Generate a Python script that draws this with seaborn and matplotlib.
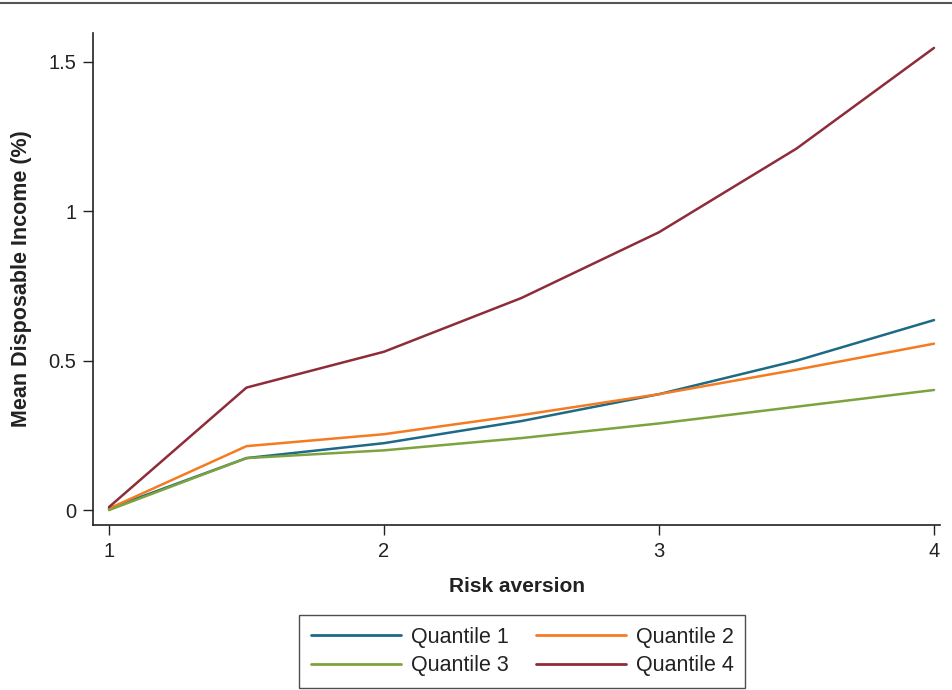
import pandas as pd
import matplotlib
matplotlib.use("Agg")
import matplotlib.pyplot as plt
import seaborn as sns
from matplotlib.lines import Line2D

# values
risk_aversion = [1, 1.5, 2, 2.5, 3, 3.5, 4]
quantile_1 = [0.005, 0.174, 0.224, 0.298, 0.388, 0.50, 0.636]
quantile_2 = [0.005, 0.214, 0.254, 0.318, 0.388, 0.47, 0.557]
quantile_3 = [0.0, 0.174, 0.200, 0.241, 0.290, 0.346, 0.402]
quantile_4 = [0.01, 0.41, 0.53, 0.71, 0.93, 1.21, 1.547]
series_names = ["Quantile 1", "Quantile 2", "Quantile 3", "Quantile 4"]
x_ticks = [1, 2, 3, 4]
x_ticklabels = ["1", "2", "3", "4"]
y_ticks = [0, 0.5, 1, 1.5]
y_ticklabels = ["0", "0.5", "1", "1.5"]

colors = ["#1d6a86", "#f57b22", "#7ca33e", "#8e2c3a"]

frames = []
for name, vals in zip(series_names, [quantile_1, quantile_2, quantile_3, quantile_4]):
    frames.append(pd.DataFrame({"risk": risk_aversion, "income": vals, "series": name}))
df = pd.concat(frames, ignore_index=True)

sns.set_style("ticks")
plt.rcParams["font.family"] = ["Liberation Sans", "DejaVu Sans"]

fig = plt.figure(figsize=(9.53, 6.9), dpi=100)
ax = fig.add_axes([0.0976, 0.2391, 0.8888, 0.7131])

sns.lineplot(data=df, x="risk", y="income", hue="series", palette=colors,
             linewidth=1.8, ax=ax, legend=False)

ax.set_xlim(0.942, 4.022)
ax.set_ylim(-0.05, 1.597)
ax.set_xticks(x_ticks)
ax.set_xticklabels(x_ticklabels)
ax.set_yticks(y_ticks)
ax.set_yticklabels(y_ticklabels)
ax.tick_params(axis="both", direction="out", length=7, width=1, labelsize=14.5,
               colors="#222222", pad=5)
for side in ["top", "right"]:
    ax.spines[side].set_visible(False)
for side in ["left", "bottom"]:
    ax.spines[side].set_linewidth(1.2)
    ax.spines[side].set_color("#222222")

ax.set_xlabel("Risk aversion", fontsize=15, fontweight="bold", labelpad=12,
              color="#222222")
ax.set_ylabel("Mean Disposable Income (%)", fontsize=15.5, fontweight="bold",
              labelpad=12, color="#222222")

# legend rows: Q1 Q2 / Q3 Q4 (matplotlib fills columns first)
order = [0, 2, 1, 3]
handles = [Line2D([0], [0], color=colors[i], lw=2) for i in order]
labels = [series_names[i] for i in order]
leg = fig.legend(handles, labels, ncol=2, loc="center",
                 bbox_to_anchor=(0.548, 0.0558), fontsize=15.5, frameon=True,
                 fancybox=False, edgecolor="#222222", handlelength=4.2,
                 handletextpad=0.45, columnspacing=1.25, borderpad=0.55,
                 labelspacing=0.35)
leg.get_frame().set_linewidth(1.0)
for t in leg.get_texts():
    t.set_color("#222222")

# top rule
fig.add_artist(Line2D([0, 1], [0.996, 0.996], transform=fig.transFigure,
                      color="#555555", lw=1.5))

fig.savefig("out.png", dpi=100)
